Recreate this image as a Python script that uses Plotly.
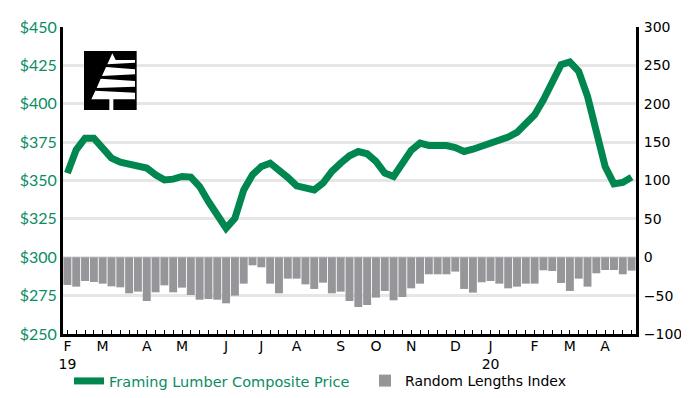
import pandas as pd
import plotly.graph_objects as go

# ---- data (weekly, Fridays from Feb 1 2019) ----
first_week = "2019-02-01"
composite_price = [
    354.8, 370.0, 377.6, 377.6, 371.1, 364.6, 362.0, 360.9, 360.2, 358.1,
    353.7, 350.4, 350.9, 352.6, 352.2, 346.1, 336.3, 326.5, 318.9, 325.4,
    343.9, 353.7, 359.1, 361.3, 357.0, 352.0, 346.5, 345.0, 343.9, 348.3,
    355.9, 361.3, 366.1, 368.9, 367.4, 362.4, 354.8, 352.6, 360.2, 369.6,
    374.3, 372.8, 372.8, 372.8, 371.5, 368.9, 370.4, 372.2, 374.3, 376.1,
    378.3, 381.3, 386.3, 392.8, 402.6, 414.6, 425.4, 427.2, 421.1, 404.8,
    383.0, 359.1, 347.8, 348.7, 352.2,
]
random_lengths_index = [
    -36.1, -38.3, -30.9, -32.2, -34.4, -37.9, -39.2, -47.0, -44.8, -57.0,
    -45.7, -36.6, -45.7, -39.6, -49.2, -55.3, -54.4, -55.3, -60.0, -50.0,
    -34.4, -10.5, -13.1, -34.4, -47.0, -27.9, -27.9, -35.3, -41.3, -33.1,
    -47.0, -44.8, -57.0, -64.8, -62.2, -52.6, -43.9, -56.1, -51.8, -40.5,
    -34.4, -22.2, -22.2, -22.2, -18.7, -41.3, -46.1, -32.6, -30.9, -34.4,
    -40.5, -38.3, -34.4, -34.4, -17.0, -17.9, -33.5, -43.9, -27.9, -38.3,
    -20.9, -16.6, -16.6, -22.2, -17.4,
]
month_tick_dates = [
    "2019-02-01", "2019-03-01", "2019-04-05", "2019-05-03", "2019-06-07",
    "2019-07-05", "2019-08-02", "2019-09-06", "2019-10-04", "2019-11-01",
    "2019-12-06", "2020-01-03", "2020-02-07", "2020-03-06", "2020-04-03",
]
month_tick_labels = ["F<br>19", "M", "A", "M", "J", "J", "A", "S", "O", "N",
                     "D", "J<br>20", "F", "M", "A"]
left_tick_vals = [250, 275, 300, 325, 350, 375, 400, 425, 450]
left_tick_text = ["$250", "$275", "$300", "$325", "$350", "$375", "$400", "$425", "$450"]
right_tick_vals = [-100, -50, 0, 50, 100, 150, 200, 250, 300]

GREEN = "#00874f"
LABEL_GREEN = "#0b8c64"
GRAY = "#96969a"

weeks = pd.date_range(first_week, periods=len(composite_price), freq="7D")
label_map = dict(zip(pd.to_datetime(month_tick_dates), month_tick_labels))
tick_text = [label_map.get(d, "") for d in weeks]

fig = go.Figure()
fig.add_trace(go.Bar(
    x=weeks, y=random_lengths_index, yaxis="y2", name="Random Lengths Index",
    marker=dict(color=GRAY, line=dict(width=0)), legend="legend2", showlegend=True,
))
fig.add_trace(go.Scatter(
    x=weeks, y=composite_price, mode="lines", name="Framing Lumber Composite Price",
    line=dict(color=GREEN, width=7), legend="legend", showlegend=True,
))

# The page body has an 8px margin, so the figure is offset by (8, 8) on screen;
# keep the figure short enough that the page never scrolls.
OFF = 8
FW, FH = 689 - OFF, 398 - 2 * OFF
# absolute (screen) plot-area edges
L, R, T, B = 63, 636, 27, 334

def P(px, py):
    return (px - L) / (R - L), (B - py) / (B - T)
def zpt(zx, zy):
    return P(80 + zx / 3, 46 + zy / 3)
def poly(pts):
    s = ""
    for k, (zx, zy) in enumerate(pts):
        x, y = zpt(zx, zy)
        s += ("M" if k == 0 else "L") + f"{x:.5f},{y:.5f} "
    return s + "Z"

# ---- logo (decoration) ----
shapes = []
shapes.append(dict(type="path", xref="paper", yref="paper", layer="above",
                   path=poly([(12, 15), (170, 15), (170, 192), (12, 192)]),
                   fillcolor="black", line=dict(width=0)))
for pts in [
    [(97, 22), (107, 42), (165, 42), (165, 50), (82, 55)],
    [(78, 63), (165, 70), (165, 85), (66, 90)],
    [(62, 98), (165, 105), (165, 122), (50, 126)],
    [(46, 134), (165, 140), (165, 160), (34, 160)],
    [(88, 158), (100, 158), (100, 192), (88, 192)],
]:
    shapes.append(dict(type="path", xref="paper", yref="paper", layer="above",
                       path=poly(pts), fillcolor="white", line=dict(width=0)))

def cx(px):
    return (px - OFF) / FW
def cy(py):
    return (OFF + FH - py) / FH

fig.update_layout(
    width=FW, height=FH,
    margin=dict(l=L - OFF, r=OFF + FW - R, t=T - OFF, b=OFF + FH - B, pad=0, autoexpand=False),
    paper_bgcolor="white", plot_bgcolor="white",
    showlegend=True,
    bargap=0.1,
    shapes=shapes,
    xaxis=dict(
        range=[weeks[0] - pd.Timedelta(days=3.5), weeks[-1] + pd.Timedelta(days=3.5)],
        tickmode="array", tickvals=weeks, ticktext=tick_text,
        ticks="inside", ticklen=4, tickwidth=1, tickcolor="black",
        showline=True, linecolor="black", linewidth=3,
        showgrid=False, zeroline=False, ticklabelstandoff=-3,
        tickfont=dict(family="DejaVu Sans", size=14, color="black"),
    ),
    yaxis=dict(
        range=[250, 450], tickmode="array", tickvals=left_tick_vals, ticktext=left_tick_text,
        showgrid=True, gridcolor="#e6e6e6", gridwidth=3,
        showline=True, linecolor="black", linewidth=3, zeroline=False,
        ticks="", tickfont=dict(family="Lato", size=16, color=LABEL_GREEN),
    ),
    yaxis2=dict(
        range=[-100, 300], overlaying="y", side="right",
        tickmode="array", tickvals=right_tick_vals,
        showgrid=False, zeroline=False, ticklabelstandoff=2,
        showline=True, linecolor="black", linewidth=3, ticks="",
        tickfont=dict(family="DejaVu Sans", size=14, color="black"),
    ),
    legend=dict(orientation="h", xref="container", yref="container",
                x=cx(109 - 40), y=cy(381), xanchor="left", yanchor="middle",
                font=dict(family="DejaVu Sans", size=14.5, color=LABEL_GREEN),
                bgcolor="rgba(0,0,0,0)"),
    legend2=dict(orientation="h", xref="container", yref="container",
                 x=cx(405 - 40), y=cy(381), xanchor="left", yanchor="middle",
                 font=dict(family="DejaVu Sans", size=14, color="black"),
                 bgcolor="rgba(0,0,0,0)"),
)

fig.write_html("out.html")
